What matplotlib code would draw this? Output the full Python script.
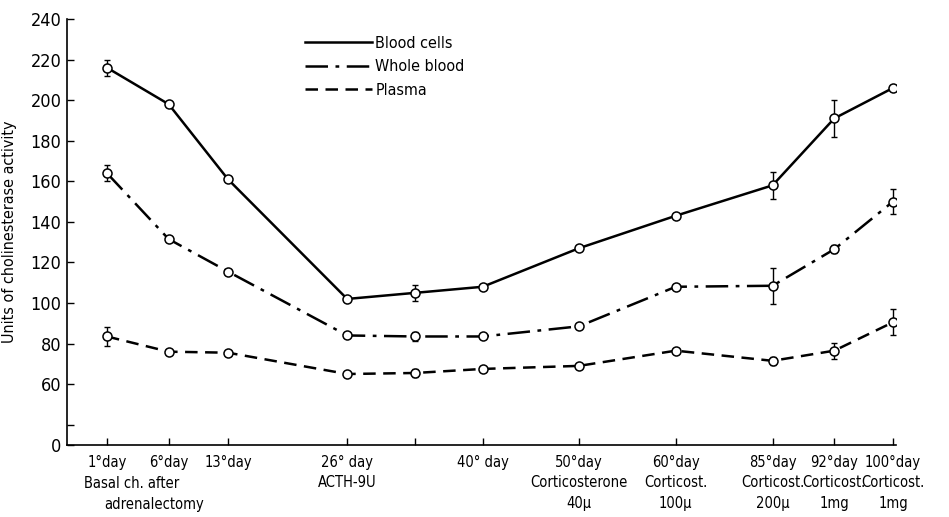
import matplotlib
matplotlib.use("Agg")
import matplotlib.pyplot as plt
import matplotlib.transforms as mtransforms

plt.rcParams['font.family'] = ['DejaVu Sans']
plt.rcParams['font.stretch'] = 'condensed'

# posicion en el eje x de cada muestra (escala del grafico original, no lineal en dias)
x_pos = [0, 1.02, 2.0, 3.97, 5.09, 6.21, 7.8, 9.4, 11.0, 12.02, 12.99]
x_labels = ["1°day", "6°day", "13°day", "26° day\nACTH-9U", "", "40° day",
            "50°day\nCorticosterone\n40µ", "60°day\nCorticost.\n100µ",
            "85°day\nCorticost.\n200µ", "92°day\nCorticost.\n1mg",
            "100°day\nCorticost.\n1mg"]

blood_cells = [216, 198, 161, 102, 105, 108, 127, 143, 158, 191, 206]
blood_cells_err = [4, 0, 0, 0, 4, 0, 0, 0, 6.5, 9, 1.5]
whole_blood = [164, 131.5, 115.5, 84, 83.5, 83.5, 88.5, 108, 108.5, 126.5, 150]
whole_blood_err = [4, 0, 0, 0, 2, 0, 0, 0, 9, 2, 6]
plasma = [83.5, 76, 75.5, 65, 65.5, 67.5, 69, 76.5, 71.5, 76.5, 90.5]
plasma_err = [4.5, 0, 0, 0, 2, 0, 0, 0, 2, 4, 6.5]

y_ticks = [30, 40, 60, 80, 100, 120, 140, 160, 180, 200, 220, 240]
y_tick_labels = ["0", "", "60", "80", "100", "120", "140", "160", "180", "200", "220", "240"]

fig = plt.figure(figsize=(9.49, 5.17), dpi=100)
ax = fig.add_axes([67 / 949, 72 / 517, (896 - 67) / 949, (445 - 19) / 517])

series = [
    ("Blood cells", blood_cells, blood_cells_err, "-"),
    ("Whole blood", whole_blood, whole_blood_err, (0, (9, 3, 1.5, 3))),
    ("Plasma", plasma, plasma_err, (0, (5, 3))),
]
for name, vals, err, ls in series:
    ax.plot(x_pos, vals, color="black", linestyle=ls, linewidth=1.8,
            marker="o", markersize=6.5, markerfacecolor="white",
            markeredgecolor="black", markeredgewidth=1.1, label=name, zorder=3)
    idx = [i for i, e in enumerate(err) if e > 0]
    ax.errorbar([x_pos[i] for i in idx], [vals[i] for i in idx],
                yerr=[err[i] for i in idx], fmt="none", ecolor="black",
                elinewidth=1.0, capsize=2.5, capthick=1.0, zorder=2)

ax.set_xlim(-0.66, 13.04)
ax.set_ylim(30, 240)
ax.set_yticks(y_ticks)
ax.set_yticklabels(y_tick_labels, fontsize=13)
ax.set_xticks(x_pos)
ax.set_xticklabels(x_labels, fontsize=10.5, linespacing=1.45)
ax.tick_params(direction="in", length=5, width=1, pad=7)
ax.tick_params(axis="y", pad=4)
for s in ["top", "right"]:
    ax.spines[s].set_visible(False)
for s in ["left", "bottom"]:
    ax.spines[s].set_linewidth(1.2)

ax.set_ylabel("Units of cholinesterase activity", fontsize=11.5, labelpad=10)

# texto extra bajo el primer grupo
trans = mtransforms.blended_transform_factory(ax.transData, fig.transFigure)
ax.text(0.4, 1 - 484 / 517, "Basal ch. after", transform=trans, ha="center",
        va="center", fontsize=10.5)
ax.text(0.78, 1 - 505 / 517, "adrenalectomy", transform=trans, ha="center",
        va="center", fontsize=10.5)

ax.legend(loc="upper left", bbox_to_anchor=(0.27, 0.995), frameon=False,
          handlelength=4.2, handletextpad=0.2, labelspacing=0.55,
          fontsize=11.5, markerscale=0)

plt.savefig("out.png", dpi=100)
plt.close()
